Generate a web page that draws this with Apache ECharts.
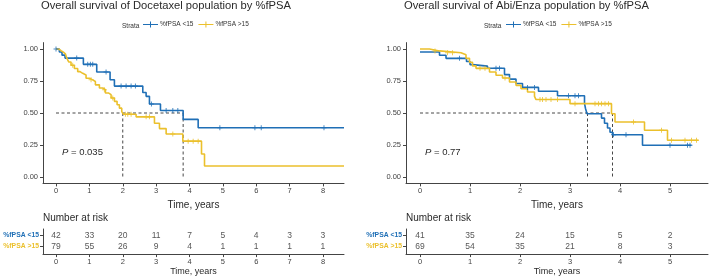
<!DOCTYPE html>
<html>
<head>
<meta charset="utf-8">
<script src="https://cdn.jsdelivr.net/npm/echarts@6/dist/echarts.min.js"></script>
<style>
  html, body { margin: 0; padding: 0; background: #fff; }
  #km-chart { width: 709px; height: 277px; }
</style>
</head>
<body>
<div id="km-chart"></div>
<script>
var BLUE = '#1f6fb6';
var GOLD = '#ebc02c';
var INK = '#2a2a2a';
var FONT = 'Liberation Sans, Arial, sans-serif';

// ---- Docetaxel panel: [time, survival] where the step lands ----
var doceLow = [[0,1],[0.1,0.976],[0.18,0.952],[0.27,0.929],[0.82,0.88],[1.22,0.82],[1.62,0.76],[1.75,0.71],
  [2.6,0.66],[2.7,0.63],[2.8,0.57],[3.13,0.52],[3.81,0.45],[4.26,0.385],[8.63,0.385]];
var doceLowCensor = [[0,1],[0.62,0.929],[0.95,0.88],[1.03,0.88],[1.1,0.88],[1.5,0.82],[1.95,0.71],[2.1,0.71],
  [2.25,0.71],[2.38,0.71],[2.86,0.57],[3.3,0.52],[3.5,0.52],[3.65,0.52],[4.91,0.385],[5.96,0.385],[6.15,0.385],[8.03,0.385]];
var doceHigh = [[0,1],[0.08,0.987],[0.15,0.975],[0.22,0.962],[0.28,0.949],[0.33,0.924],[0.38,0.899],[0.45,0.873],
  [0.55,0.848],[0.65,0.823],[0.72,0.81],[0.8,0.797],[0.9,0.772],[1.0,0.759],[1.1,0.746],[1.18,0.72],[1.3,0.695],
  [1.4,0.682],[1.48,0.656],[1.58,0.643],[1.65,0.617],[1.75,0.591],[1.83,0.565],[1.9,0.538],[1.97,0.511],[2.02,0.49],
  [2.4,0.47],[2.95,0.42],[3.1,0.378],[3.3,0.336],[3.8,0.28],[4.36,0.18],[4.45,0.086],[8.63,0.086]];
var doceHighCensor = [[0.5,0.873],[1.05,0.759],[1.45,0.682],[1.7,0.617],[2.08,0.49],[2.15,0.49],[2.25,0.49],
  [2.7,0.47],[2.8,0.47],[3.5,0.336],[3.96,0.28],[4.11,0.28],[4.26,0.28]];
var doceMedians = [2.0, 3.81];

// ---- Abi/Enza panel ----
var abiLow = [[0,0.976],[0.39,0.951],[0.52,0.927],[0.93,0.902],[1.0,0.878],[1.05,0.866],[1.35,0.85],[1.69,0.80],
  [1.79,0.765],[1.92,0.73],[2.05,0.70],[2.37,0.67],[2.75,0.635],[3.29,0.575],[3.31,0.535],[3.34,0.494],[3.63,0.46],
  [3.69,0.42],[3.75,0.383],[3.8,0.35],[3.85,0.33],[4.45,0.248],[5.43,0.248]];
var abiLowCensor = [[0.79,0.927],[1.52,0.85],[1.59,0.85],[2.15,0.70],[2.29,0.70],[2.97,0.635],[3.1,0.635],
  [3.17,0.635],[3.87,0.33],[4.12,0.33],[5.0,0.248],[5.35,0.248],[5.4,0.248]];
var abiHigh = [[0,1],[0.19,0.985],[0.39,0.971],[0.82,0.956],[0.92,0.927],[0.99,0.897],[1.05,0.868],[1.12,0.849],
  [1.39,0.82],[1.52,0.795],[1.65,0.773],[1.79,0.742],[1.92,0.716],[2.02,0.69],[2.15,0.664],[2.29,0.63],[2.32,0.605],
  [3.0,0.573],[3.83,0.494],[3.9,0.43],[4.49,0.365],[4.95,0.287],[5.57,0.287]];
var abiHighCensor = [[0.3,0.985],[0.55,0.971],[0.65,0.971],[1.2,0.849],[1.3,0.849],[1.7,0.773],[2.4,0.605],
  [2.45,0.605],[2.52,0.605],[2.62,0.605],[2.75,0.605],[3.1,0.573],[3.5,0.573],[3.57,0.573],[3.63,0.573],[3.7,0.573],
  [3.77,0.573],[4.27,0.43],[4.83,0.365],[5.03,0.287],[5.3,0.287],[5.43,0.287],[5.53,0.287]];
var abiMedians = [3.35, 3.85];

// ---- number at risk ----
var doceRiskTimes = [0,1,2,3,4,5,6,7,8];
var doceRiskLow = [42,33,20,11,7,5,4,3,3];
var doceRiskHigh = [79,55,26,9,4,1,1,1,1];
var abiRiskTimes = [0,1,2,3,4,5];
var abiRiskLow = [41,35,24,15,5,2];
var abiRiskHigh = [69,54,35,21,8,3];

var survTicks = [0, 0.25, 0.5, 0.75, 1];
var NAME_LOW = '%fPSA <15', NAME_HIGH = '%fPSA >15';
var PLUS = 'path://M0,2H5V3H0Z M2,0H3V5H2Z';
var LEGEND_ICON = 'path://M0,3.5H15V4.5H0Z M7,1H8V7H7Z';

function xAxis(grid, min, max, ticks, isRisk) {
  return {
    type: 'value', gridIndex: grid, min: min, max: max,
    name: 'Time, years', nameLocation: 'middle', nameGap: isRisk ? 10 : 11.5,
    nameTextStyle: { fontSize: isRisk ? 9 : 10, color: INK, fontFamily: FONT },
    axisLine: { show: true, onZero: false, lineStyle: { color: '#444', width: 1 } },
    axisTick: { show: true, customValues: ticks, length: 3, lineStyle: { color: '#444' } },
    axisLabel: { customValues: ticks, fontSize: 7.5, color: '#444', margin: 4, fontFamily: FONT },
    splitLine: { show: false }
  };
}
function survAxis(grid) {
  return {
    type: 'value', gridIndex: grid, min: -0.05, max: 1.05,
    axisLine: { show: true, onZero: false, lineStyle: { color: '#444', width: 1 } },
    axisTick: { show: true, customValues: survTicks, length: 3, lineStyle: { color: '#444' } },
    axisLabel: { customValues: survTicks, fontSize: 7.5, color: '#444', margin: 5, fontFamily: FONT,
      formatter: function (v) { return v.toFixed(2); } },
    splitLine: { show: false }
  };
}
function riskAxis(grid) {
  return {
    type: 'value', gridIndex: grid, min: -0.684, max: 1.6,
    axisLine: { show: true, onZero: false, lineStyle: { color: '#444', width: 1 } },
    axisTick: { show: true, customValues: [0, 1], length: 3, lineStyle: { color: '#444' } },
    axisLabel: { customValues: [0, 1], margin: 4, fontFamily: FONT,
      formatter: function (v) { return v === 1 ? '{b|' + NAME_LOW + '}' : '{y|' + NAME_HIGH + '}'; },
      rich: { b: { color: BLUE, fontSize: 6.8, fontWeight: 'bold' }, y: { color: GOLD, fontSize: 6.8, fontWeight: 'bold' } } },
    splitLine: { show: false }
  };
}

function kmSeries(name, data, color, ax) {
  return { name: name, type: 'line', step: 'end', data: data, xAxisIndex: ax, yAxisIndex: ax,
    showSymbol: false, symbol: 'none', lineStyle: { color: color, width: 1.6 }, itemStyle: { color: color },
    animation: false, z: 3 };
}
function censorSeries(name, data, color, ax) {
  return { name: name, type: 'scatter', data: data, xAxisIndex: ax, yAxisIndex: ax,
    symbol: PLUS, symbolSize: 5, itemStyle: { color: color }, animation: false, z: 4 };
}
function medianSeries(medians, ax) {
  var out = [];
  var last = Math.max.apply(null, medians);
  var segs = [[[0, 0.5], [last, 0.5]]];
  medians.forEach(function (m) { segs.push([[m, 0.5], [m, 0]]); });
  segs.forEach(function (seg) {
    out.push({ type: 'line', data: seg, xAxisIndex: ax, yAxisIndex: ax, symbol: 'none', silent: true,
      lineStyle: { color: '#333', width: 0.9, type: [3, 2.5] }, animation: false, z: 2 });
  });
  return out;
}
function riskSeries(times, counts, row, ax) {
  return { type: 'scatter', xAxisIndex: ax, yAxisIndex: ax, symbolSize: 1,
    itemStyle: { color: 'transparent' }, animation: false,
    data: times.map(function (t, i) { return [t, row, counts[i]]; }),
    label: { show: true, position: 'inside', fontSize: 8.5, color: INK, fontFamily: FONT,
      formatter: function (p) { return p.value[2]; } } };
}

var chart = echarts.init(document.getElementById('km-chart'));
var series = [].concat(
  medianSeries(doceMedians, 0),
  medianSeries(abiMedians, 1),
  [
    kmSeries(NAME_LOW, doceLow, BLUE, 0),
    kmSeries(NAME_HIGH, doceHigh, GOLD, 0),
    censorSeries(NAME_LOW, doceLowCensor, BLUE, 0),
    censorSeries(NAME_HIGH, doceHighCensor, GOLD, 0),
    kmSeries(NAME_LOW, abiLow, BLUE, 1),
    kmSeries(NAME_HIGH, abiHigh, GOLD, 1),
    censorSeries(NAME_LOW, abiLowCensor, BLUE, 1),
    censorSeries(NAME_HIGH, abiHighCensor, GOLD, 1),
    riskSeries(doceRiskTimes, doceRiskLow, 1, 2),
    riskSeries(doceRiskTimes, doceRiskHigh, 0, 2),
    riskSeries(abiRiskTimes, abiRiskLow, 1, 3),
    riskSeries(abiRiskTimes, abiRiskHigh, 0, 3)
  ]
);

function legend(left) {
  return { left: left, top: 21, itemWidth: 15, itemHeight: 8, itemGap: 5, padding: 0,
    selectedMode: false,
    textStyle: { fontSize: 6.5, color: '#333', fontFamily: FONT, padding: [0, 0, 0, -3] },
    data: [{ name: NAME_LOW, icon: LEGEND_ICON, itemStyle: { color: BLUE } },
           { name: NAME_HIGH, icon: LEGEND_ICON, itemStyle: { color: GOLD } }] };
}

chart.setOption({
  backgroundColor: '#fff',
  animation: false,
  title: [
    { text: 'Overall survival of Docetaxel population by %fPSA', left: 41, top: 0, padding: 0,
      textStyle: { fontSize: 11.2, fontWeight: 'normal', color: INK, fontFamily: FONT } },
    { text: 'Overall survival of Abi/Enza population by %fPSA', left: 404, top: 0, padding: 0,
      textStyle: { fontSize: 11.2, fontWeight: 'normal', color: INK, fontFamily: FONT } },
    { text: 'Number at risk', left: 43, top: 213, padding: 0,
      textStyle: { fontSize: 10, fontWeight: 'normal', color: INK, fontFamily: FONT } },
    { text: 'Number at risk', left: 406, top: 213, padding: 0,
      textStyle: { fontSize: 10, fontWeight: 'normal', color: INK, fontFamily: FONT } }
  ],
  legend: [legend(143), legend(506)],
  graphic: [
    { type: 'text', left: 122, top: 22.5, style: { text: 'Strata', fontSize: 6.5, fill: '#333', fontFamily: FONT } },
    { type: 'text', left: 484, top: 22.5, style: { text: 'Strata', fontSize: 6.5, fill: '#333', fontFamily: FONT } },
    { type: 'text', left: 62, top: 147, style: { text: '{i|P} = 0.035', fontSize: 9.5, fill: INK, fontFamily: FONT,
      rich: { i: { fontStyle: 'italic', fontSize: 9.5, fill: INK, fontFamily: FONT } } } },
    { type: 'text', left: 425, top: 147, style: { text: '{i|P} = 0.77', fontSize: 9.5, fill: INK, fontFamily: FONT,
      rich: { i: { fontStyle: 'italic', fontSize: 9.5, fill: INK, fontFamily: FONT } } } }
  ],
  grid: [
    { left: 43, top: 42.6, width: 301, height: 140.8 },
    { left: 406, top: 42.6, width: 302, height: 140.8 },
    { left: 43, top: 229, width: 301, height: 26.7 },
    { left: 406, top: 229, width: 302, height: 26.7 }
  ],
  xAxis: [
    xAxis(0, -0.39, 8.63, doceRiskTimes, false),
    xAxis(1, -0.28, 5.76, abiRiskTimes, false),
    xAxis(2, -0.39, 8.63, doceRiskTimes, true),
    xAxis(3, -0.28, 5.76, abiRiskTimes, true)
  ],
  yAxis: [survAxis(0), survAxis(1), riskAxis(2), riskAxis(3)],
  series: series
});
</script>
</body>
</html>
